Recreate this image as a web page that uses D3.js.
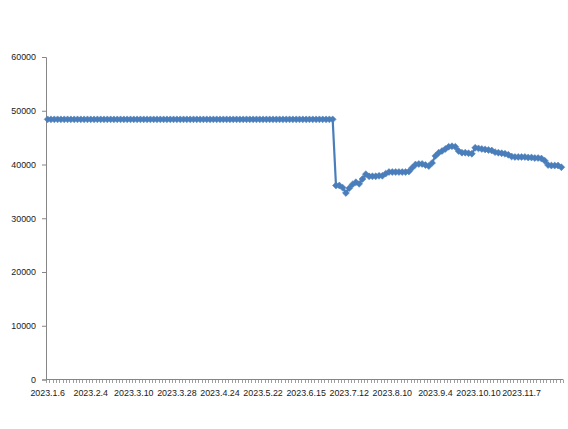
<!DOCTYPE html>
<html>
<head>
<meta charset="utf-8">
<script src="https://cdn.jsdelivr.net/npm/d3@7"></script>
<style>
  html, body { margin: 0; padding: 0; background: #fff; }
  svg { display: block; }
</style>
</head>
<body>
<svg id="chart" width="568" height="429"></svg>
<script>
// ---- data ----
const tickLabels = ["2023.1.6", "2023.2.4", "2023.3.10", "2023.3.28", "2023.4.24", "2023.5.22",
  "2023.6.15", "2023.7.12", "2023.8.10", "2023.9.4", "2023.10.10", "2023.11.7"];
const labelEvery = 13;

const values = [
  48400, 48400, 48400, 48400, 48400, 48400, 48400, 48400, 48400, 48400,
  48400, 48400, 48400, 48400, 48400, 48400, 48400, 48400, 48400, 48400,
  48400, 48400, 48400, 48400, 48400, 48400, 48400, 48400, 48400, 48400,
  48400, 48400, 48400, 48400, 48400, 48400, 48400, 48400, 48400, 48400,
  48400, 48400, 48400, 48400, 48400, 48400, 48400, 48400, 48400, 48400,
  48400, 48400, 48400, 48400, 48400, 48400, 48400, 48400, 48400, 48400,
  48400, 48400, 48400, 48400, 48400, 48400, 48400, 48400, 48400, 48400,
  48400, 48400, 48400, 48400, 48400, 48400, 48400, 48400, 48400, 48400,
  48400, 48400, 48400, 48400, 48400, 48400, 48400,
  36100, 36100, 35700, 34700, 35600, 36300, 36700, 36400, 37300, 38200,
  37800, 37800, 37800, 37900, 37900, 38300, 38600, 38600, 38600, 38600,
  38600, 38600, 38700, 39400, 40000, 40100, 40100, 39900, 39700, 40300,
  41600, 42200, 42500, 42900, 43300, 43400, 43300, 42500, 42200, 42200,
  42100, 42000, 43100, 43000, 42900, 42800, 42700, 42600, 42300, 42200,
  42100, 42000, 41800, 41500, 41400, 41400, 41400, 41400, 41300, 41300,
  41200, 41200, 41100, 40700, 39900, 39800, 39800, 39800, 39500
];
const categories = d3.range(values.length);
const yTicks = [0, 10000, 20000, 30000, 40000, 50000, 60000];

// ---- layout ----
const svg = d3.select("#chart");
const mLeft = 46, mRight = 563, mTop = 57, mBottom = 379.5;
const axisColor = "#868686";
const seriesColor = "#4A7EBB";
const font = "'Liberation Sans', Arial, sans-serif";
const fontSize = "8.9px";

const x = d3.scaleBand().domain(categories).range([mLeft, mRight]).paddingInner(0).paddingOuter(0);
const y = d3.scaleLinear().domain([0, 60000]).range([mBottom, mTop]);

// y axis
const yAxis = d3.axisLeft(y).tickValues(yTicks).tickSize(4).tickPadding(6).tickFormat(d3.format("d"));
const gy = svg.append("g").attr("transform", `translate(${mLeft},0)`).call(yAxis);
gy.select(".domain").attr("stroke", axisColor);
gy.selectAll(".tick line").attr("stroke", axisColor);
gy.selectAll(".tick text").attr("fill", "#1a1a1a").style("font-family", font).style("font-size", fontSize);

// x axis line + category tick marks
const gx = svg.append("g");
gx.append("line").attr("x1", mLeft).attr("x2", mRight).attr("y1", mBottom).attr("y2", mBottom)
  .attr("stroke", axisColor).attr("stroke-width", 1);
const boundaries = categories.map(c => x(c)).concat([mRight]);
gx.selectAll("line.tk").data(boundaries).enter().append("line").attr("class", "tk")
  .attr("x1", d => Math.round(d) + 0.5).attr("x2", d => Math.round(d) + 0.5)
  .attr("y1", mBottom).attr("y2", mBottom + 3.5)
  .attr("stroke", axisColor).attr("stroke-width", 0.8);
gx.selectAll("text").data(tickLabels).enter().append("text")
  .attr("x", (d, i) => x(categories[i * labelEvery]) + x.bandwidth() / 2)
  .attr("y", 395.5)
  .attr("text-anchor", "middle")
  .attr("fill", "#1a1a1a")
  .style("font-family", font).style("font-size", fontSize)
  .text(d => d);

// series line
const cx = i => x(i) + x.bandwidth() / 2;
svg.append("path").datum(values)
  .attr("fill", "none").attr("stroke", seriesColor).attr("stroke-width", 2.2)
  .attr("stroke-linejoin", "round")
  .attr("d", d3.line().x((d, i) => cx(i)).y(d => y(d)));

// diamond markers
const marker = d3.symbol().type(d3.symbolSquare).size(24);
svg.append("g").selectAll("path").data(values).enter().append("path")
  .attr("d", marker)
  .attr("transform", (d, i) => `translate(${cx(i)},${y(d)}) rotate(45)`)
  .attr("fill", seriesColor).attr("stroke", seriesColor).attr("stroke-width", 0.5);
</script>
</body>
</html>
